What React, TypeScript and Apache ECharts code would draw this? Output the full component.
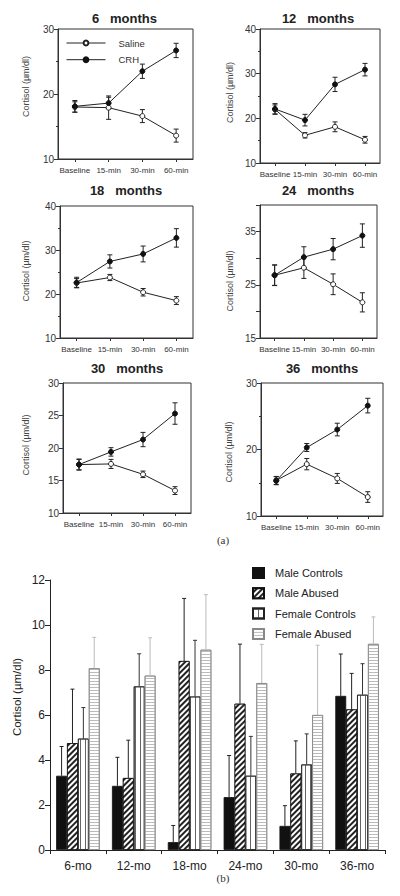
import React, { useEffect, useRef } from 'react';
import * as echarts from 'echarts';

// ---------- data ----------
const timePoints = ['Baseline', '15-min', '30-min', '60-min'];
const panelTitles = ['6   months', '12   months', '18   months', '24   months', '30   months', '36   months'];

const saline6 = [18.0, 17.9, 16.6, 13.6];
const salineErr6 = [0.8, 1.8, 1.0, 1.0];
const crh6 = [18.1, 18.6, 23.5, 26.7];
const crhErr6 = [0.9, 0.9, 1.1, 1.1];

const saline12 = [22.0, 16.2, 18.1, 15.2];
const salineErr12 = [1.0, 0.6, 1.1, 0.75];
const crh12 = [22.1, 19.6, 27.6, 30.9];
const crhErr12 = [1.2, 1.3, 1.6, 1.4];

const saline18 = [22.5, 23.75, 20.4, 18.5];
const salineErr18 = [1.0, 0.7, 0.85, 0.9];
const crh18 = [22.6, 27.4, 29.1, 32.75];
const crhErr18 = [1.2, 1.5, 1.8, 2.1];

const saline24 = [26.8, 28.2, 25.1, 21.7];
const salineErr24 = [1.9, 2.0, 1.95, 1.8];
const crh24 = [26.8, 30.2, 31.7, 34.25];
const crhErr24 = [1.95, 1.95, 2.0, 2.2];

const saline30 = [17.45, 17.55, 15.95, 13.45];
const salineErr30 = [0.8, 0.7, 0.5, 0.6];
const crh30 = [17.45, 19.4, 21.3, 25.3];
const crhErr30 = [0.85, 0.65, 1.1, 1.65];

const saline36 = [15.35, 17.8, 15.65, 12.85];
const salineErr36 = [0.6, 0.85, 0.75, 0.8];
const crh36 = [15.3, 20.3, 23.0, 26.6];
const crhErr36 = [0.6, 0.6, 0.95, 1.1];

const yMins = [10, 10, 10, 15, 10, 10];
const yMaxs = [30, 40, 40, 40, 30, 30];
const yIntervals = [10, 10, 10, 5, 5, 10];
const yLabelValues = [[10, 20, 30], [10, 20, 30, 40], [10, 20, 30, 40], [15, 25, 35], [10, 15, 20, 25, 30], [10, 20, 30]];

const ageGroups = ['6-mo', '12-mo', '18-mo', '24-mo', '30-mo', '36-mo'];
const maleControls = [3.3, 2.85, 0.35, 2.35, 1.07, 6.85];
const maleControlsErr = [1.3, 1.27, 0.74, 1.85, 0.9, 1.86];
const maleAbused = [4.75, 3.2, 8.4, 6.5, 3.4, 6.25];
const maleAbusedErr = [2.4, 1.68, 2.78, 2.65, 1.45, 1.6];
const femaleControls = [4.95, 7.27, 6.82, 3.3, 3.8, 6.9];
const femaleControlsErr = [1.38, 1.45, 2.5, 1.75, 1.36, 1.38];
const femaleAbused = [8.08, 7.75, 8.9, 7.42, 6.0, 9.16];
const femaleAbusedErr = [1.37, 1.68, 2.45, 1.72, 3.1, 1.2];

const salineSets = [saline6, saline12, saline18, saline24, saline30, saline36];
const salineErrSets = [salineErr6, salineErr12, salineErr18, salineErr24, salineErr30, salineErr36];
const crhSets = [crh6, crh12, crh18, crh24, crh30, crh36];
const crhErrSets = [crhErr6, crhErr12, crhErr18, crhErr24, crhErr30, crhErr36];

// ---------- layout ----------
const FONT = '"Liberation Sans", Arial, sans-serif';
const panelGrids = [
  { left: 58, top: 29, width: 135, height: 130 },
  { left: 260, top: 29, width: 120, height: 134 },
  { left: 60, top: 206, width: 133, height: 132 },
  { left: 260, top: 205, width: 117, height: 133 },
  { left: 63, top: 383, width: 128, height: 130 },
  { left: 261, top: 383, width: 122, height: 133 },
];
const titlePos = [[124.5, 18], [318, 18], [126, 190], [318, 190], [127, 368], [322, 368]];
const yNamePos = [[26, 86.5], [230, 92.5], [26, 271], [230, 281], [26, 445], [229, 452]];
const barGrid = { left: 50, top: 580, width: 335, height: 270 };
const BAR_GAP = 0.22;

function lineErrRender(params: any, api: any) {
  const x = api.value(0);
  const lo = api.coord([x, api.value(1)]);
  const hi = api.coord([x, api.value(2)]);
  const w = 2.5;
  const style = { stroke: '#222', lineWidth: 1 };
  return {
    type: 'group',
    children: [
      { type: 'line', shape: { x1: lo[0], y1: lo[1], x2: hi[0], y2: hi[1] }, style },
      { type: 'line', shape: { x1: lo[0] - w, y1: lo[1], x2: lo[0] + w, y2: lo[1] }, style },
      { type: 'line', shape: { x1: hi[0] - w, y1: hi[1], x2: hi[0] + w, y2: hi[1] }, style },
    ],
  };
}

function makeBarErrRender(k: number, color: string) {
  return (params: any, api: any) => {
    const idx = api.value(0);
    const bw = api.size([1, 0])[0];
    const groupW = bw * (1 - BAR_GAP);
    const barW = groupW / 4;
    const base = api.coord([idx, api.value(1)]);
    const top = api.coord([idx, api.value(2)]);
    const cx = base[0] - groupW / 2 + (k + 0.5) * barW;
    const w = 2;
    const style = { stroke: color, lineWidth: 1 };
    return {
      type: 'group',
      children: [
        { type: 'line', shape: { x1: cx, y1: base[1], x2: cx, y2: top[1] }, style },
        { type: 'line', shape: { x1: cx - w, y1: top[1], x2: cx + w, y2: top[1] }, style },
      ],
    };
  };
}

function buildOption(): any {
  const grid: any[] = panelGrids.map((g) => ({
    ...g,
    show: true,
    borderColor: '#333',
    borderWidth: 1,
    backgroundColor: 'transparent',
    containLabel: false,
    outerBoundsMode: 'none',
  }));
  grid.push({ ...barGrid, show: false, containLabel: false, outerBoundsMode: 'none' });

  const xAxis: any[] = panelGrids.map((_, i) => ({
    type: 'category',
    gridIndex: i,
    data: timePoints,
    boundaryGap: true,
    axisLine: { show: true, lineStyle: { color: '#333', width: 1 } },
    axisTick: { show: true, alignWithLabel: true, length: 3, lineStyle: { color: '#333' } },
    axisLabel: { interval: 0, fontSize: 8, fontFamily: FONT, color: '#333', margin: 7 },
    splitLine: { show: false },
  }));
  xAxis.push({
    type: 'category',
    gridIndex: 6,
    data: ageGroups,
    boundaryGap: true,
    axisLine: { show: true, lineStyle: { color: '#222', width: 1 } },
    axisTick: { show: true, length: 4, lineStyle: { color: '#222' } },
    axisLabel: { interval: 0, fontSize: 12, fontFamily: FONT, color: '#222', margin: 10 },
    splitLine: { show: false },
  });

  const yAxis: any[] = panelGrids.map((_, i) => ({
    type: 'value',
    gridIndex: i,
    min: yMins[i],
    max: yMaxs[i],
    interval: yIntervals[i],
    axisLine: { show: true, lineStyle: { color: '#333', width: 1 } },
    axisTick: { show: true, length: 4, lineStyle: { color: '#333' } },
    minorTick: { show: yIntervals[i] === 10, splitNumber: 2, length: 2, lineStyle: { color: '#333' } },
    axisLabel: {
      fontSize: 10,
      fontFamily: FONT,
      color: '#333',
      margin: 4,
      formatter: (v: number) => (yLabelValues[i].includes(v) ? String(v) : ''),
    },
    splitLine: { show: false },
    minorSplitLine: { show: false },
  }));
  yAxis.push({
    type: 'value',
    gridIndex: 6,
    min: 0,
    max: 12,
    interval: 2,
    axisLine: { show: true, lineStyle: { color: '#222', width: 1 } },
    axisTick: { show: true, length: 5, lineStyle: { color: '#222' } },
    axisLabel: { fontSize: 12, fontFamily: FONT, color: '#222', margin: 5 },
    splitLine: { show: false },
  });

  const series: any[] = [];
  panelGrids.forEach((_, i) => {
    series.push({
      type: 'custom',
      name: 'Saline err',
      xAxisIndex: i,
      yAxisIndex: i,
      z: 2,
      renderItem: lineErrRender,
      encode: { x: 0, y: [1, 2] },
      data: timePoints.map((_, j) => [j, salineSets[i][j] - salineErrSets[i][j], salineSets[i][j] + salineErrSets[i][j]]),
      silent: true,
    });
    series.push({
      type: 'custom',
      name: 'CRH err',
      xAxisIndex: i,
      yAxisIndex: i,
      z: 2,
      renderItem: lineErrRender,
      encode: { x: 0, y: [1, 2] },
      data: timePoints.map((_, j) => [j, crhSets[i][j] - crhErrSets[i][j], crhSets[i][j] + crhErrSets[i][j]]),
      silent: true,
    });
    series.push({
      type: 'line',
      name: 'Saline',
      xAxisIndex: i,
      yAxisIndex: i,
      z: 3,
      data: salineSets[i],
      symbol: 'circle',
      symbolSize: 5,
      showAllSymbol: true,
      lineStyle: { color: '#222', width: 1 },
      itemStyle: { color: '#fff', borderColor: '#222', borderWidth: 1 },
    });
    series.push({
      type: 'line',
      name: 'CRH',
      xAxisIndex: i,
      yAxisIndex: i,
      z: 4,
      data: crhSets[i],
      symbol: 'circle',
      symbolSize: 5,
      showAllSymbol: true,
      lineStyle: { color: '#222', width: 1 },
      itemStyle: { color: '#111', borderColor: '#111', borderWidth: 1 },
    });
  });

  const barDefs = [
    { name: 'Male Controls', data: maleControls, err: maleControlsErr, errColor: '#222',
      itemStyle: { color: '#111', borderColor: '#111', borderWidth: 0.8 } },
    { name: 'Male Abused', data: maleAbused, err: maleAbusedErr, errColor: '#222',
      itemStyle: { color: '#222', borderColor: '#111', borderWidth: 0.8,
        decal: { symbol: 'rect', symbolSize: 1, color: '#fff', dashArrayX: [1, 0], dashArrayY: [1.2, 1.6], rotation: -Math.PI / 4 } } },
    { name: 'Female Controls', data: femaleControls, err: femaleControlsErr, errColor: '#333',
      itemStyle: { color: '#fff', borderColor: '#222', borderWidth: 0.8,
        decal: { symbol: 'rect', symbolSize: 1, color: '#666', dashArrayX: [1, 3.5], dashArrayY: [1, 0], rotation: 0 } } },
    { name: 'Female Abused', data: femaleAbused, err: femaleAbusedErr, errColor: '#bbb',
      itemStyle: { color: '#fff', borderColor: '#888', borderWidth: 0.8,
        decal: { symbol: 'rect', symbolSize: 1, color: '#bbb', dashArrayX: [1, 0], dashArrayY: [1, 2], rotation: 0 } } },
  ];
  barDefs.forEach((b) => {
    series.push({
      type: 'bar',
      name: b.name,
      xAxisIndex: 6,
      yAxisIndex: 6,
      data: b.data,
      barGap: '0%',
      barCategoryGap: `${BAR_GAP * 100}%`,
      itemStyle: b.itemStyle,
      z: 2,
    });
  });
  barDefs.forEach((b, k) => {
    series.push({
      type: 'custom',
      name: b.name + ' err',
      xAxisIndex: 6,
      yAxisIndex: 6,
      z: 3,
      silent: true,
      renderItem: makeBarErrRender(k, b.errColor),
      encode: { x: 0, y: [1, 2] },
      data: ageGroups.map((_, j) => [j, b.data[j], b.data[j] + b.err[j]]),
    });
  });

  const graphic: any[] = [];
  panelTitles.forEach((t, i) => {
    graphic.push({
      type: 'text',
      x: titlePos[i][0],
      y: titlePos[i][1],
      style: { text: t, align: 'center', verticalAlign: 'middle', font: `bold 13px ${FONT}`, fill: '#222' },
    });
    graphic.push({
      type: 'text',
      x: yNamePos[i][0],
      y: yNamePos[i][1],
      rotation: Math.PI / 2,
      style: { text: 'Cortisol (µm/dl)', align: 'center', verticalAlign: 'middle', font: `9px ${FONT}`, fill: '#444' },
    });
  });
  graphic.push({
    type: 'text', x: 17, y: 697, rotation: Math.PI / 2,
    style: { text: 'Cortisol (µm/dl)', align: 'center', verticalAlign: 'middle', font: `11.5px ${FONT}`, fill: '#222' },
  });
  graphic.push({
    type: 'text', x: 223, y: 540,
    style: { text: '(a)', align: 'center', verticalAlign: 'middle', font: '11px "Liberation Serif", serif', fill: '#333' },
  });
  graphic.push({
    type: 'text', x: 223, y: 878,
    style: { text: '(b)', align: 'center', verticalAlign: 'middle', font: '11px "Liberation Serif", serif', fill: '#333' },
  });

  return {
    animation: false,
    backgroundColor: '#fff',
    grid,
    xAxis,
    yAxis,
    series,
    graphic,
    legend: [
      {
        data: ['Saline', 'CRH'],
        orient: 'vertical',
        left: 66,
        top: 38,
        itemWidth: 39,
        itemHeight: 6,
        itemGap: 6.7,
        padding: 0,
        lineStyle: { width: 1 },
        textStyle: { fontSize: 9.5, fontFamily: FONT, color: '#333', padding: [0, 0, 0, 8] },
        selectedMode: false,
      },
      {
        data: ['Male Controls', 'Male Abused', 'Female Controls', 'Female Abused'],
        orient: 'vertical',
        left: 252,
        top: 567,
        icon: 'rect',
        itemWidth: 11,
        itemHeight: 10,
        itemGap: 8.3,
        padding: 0,
        textStyle: { fontSize: 11, fontFamily: FONT, color: '#222', padding: [0, 0, 0, 6] },
        selectedMode: false,
      },
    ],
  };
}

export default function App() {
  const ref = useRef<HTMLDivElement>(null);
  useEffect(() => {
    const chart = echarts.init(ref.current!, null, { renderer: 'svg' });
    chart.setOption(buildOption());
    return () => chart.dispose();
  }, []);
  return (
    <div
      ref={ref}
      style={{ position: 'absolute', left: 0, top: 0, width: 400, height: 896, background: '#fff' }}
    />
  );
}
